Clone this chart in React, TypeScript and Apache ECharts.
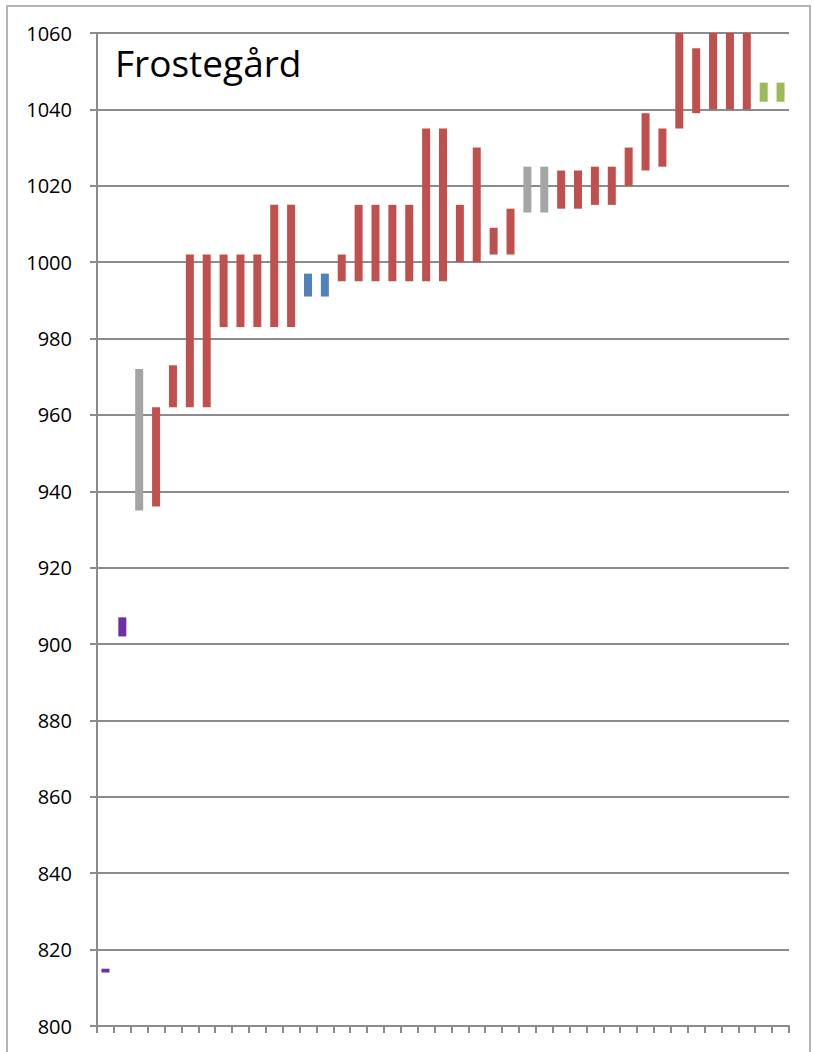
import React, { useEffect, useRef } from "react";
import * as echarts from "echarts";

const TITLE = "Frostegård";

const categories: string[] = Array.from({ length: 41 }, (_, i) => String(i + 1));

const lows: number[] = [
  814, 902, 935, 936, 962, 962, 962, 983, 983, 983, 983, 983, 991, 991, 995,
  995, 995, 995, 995, 995, 995, 1000, 1000, 1002, 1002, 1013, 1013, 1014, 1014,
  1015, 1015, 1020, 1024, 1025, 1035, 1039, 1040, 1040, 1040, 1042, 1042,
];

const highs: number[] = [
  815, 907, 972, 962, 973, 1002, 1002, 1002, 1002, 1002, 1015, 1015, 997, 997,
  1002, 1015, 1015, 1015, 1015, 1035, 1035, 1015, 1030, 1009, 1014, 1025, 1025,
  1024, 1024, 1025, 1025, 1030, 1039, 1035, 1060, 1056, 1060, 1060, 1060, 1047,
  1047,
];

const groups: string[] = [
  "purple", "purple", "grey", "red", "red", "red", "red", "red", "red", "red",
  "red", "red", "blue", "blue", "red", "red", "red", "red", "red", "red", "red",
  "red", "red", "red", "red", "grey", "grey", "red", "red", "red", "red", "red",
  "red", "red", "red", "red", "red", "red", "red", "green", "green",
];

const yTicks = { min: 800, max: 1060, interval: 20 };

const palette: Record<string, string> = {
  red: "#C0504D",
  grey: "#A5A5A5",
  blue: "#4F81BD",
  purple: "#7030A0",
  green: "#9BBB59",
};

export default function App() {
  const ref = useRef<HTMLDivElement>(null);
  useEffect(() => {
    if (!ref.current) return;
    const chart = echarts.init(ref.current, undefined, { renderer: "svg" });
    const gridColor = "#8c8c8c";
    chart.setOption({
      animation: false,
      backgroundColor: "#ffffff",
      grid: { left: 97, right: 25, top: 33, bottom: 26, containLabel: false },
      graphic: [
        {
          type: "rect",
          shape: { x: 7, y: 6, width: 803, height: 1060 },
          style: { fill: "none", stroke: "#b4b4b4", lineWidth: 2 },
          silent: true,
        },
        {
          type: "text",
          left: 115,
          top: 44,
          style: {
            text: TITLE,
            fontFamily: "Open Sans",
            fontSize: 37,
            fill: "#000000",
          },
          z: 10,
        },
      ],
      xAxis: {
        type: "category",
        data: categories,
        boundaryGap: true,
        axisLine: { show: true, lineStyle: { color: gridColor, width: 2 } },
        axisTick: {
          show: true,
          interval: 0,
          length: 7,
          lineStyle: { color: gridColor, width: 2 },
        },
        axisLabel: { show: false },
        splitLine: { show: false },
      },
      yAxis: {
        type: "value",
        min: yTicks.min,
        max: yTicks.max,
        interval: yTicks.interval,
        axisLine: { show: true, lineStyle: { color: gridColor, width: 2 } },
        axisTick: {
          show: true,
          length: 7,
          lineStyle: { color: gridColor, width: 2 },
        },
        axisLabel: {
          margin: 25,
          fontFamily: "Open Sans",
          fontSize: 20,
          color: "#000000",
          formatter: (v: number) => String(v),
        },
        splitLine: { show: true, lineStyle: { color: gridColor, width: 2 } },
      },
      series: [
        {
          type: "bar",
          stack: "r",
          barWidth: 8,
          silent: true,
          itemStyle: { color: "transparent" },
          data: lows,
        },
        {
          type: "bar",
          stack: "r",
          barWidth: 8,
          data: highs.map((h, i) => ({
            value: h - lows[i],
            itemStyle: { color: palette[groups[i]] },
          })),
        },
      ],
    });
    return () => chart.dispose();
  }, []);
  return (
    <div
      ref={ref}
      style={{ position: "fixed", left: 0, top: 0, width: 814, height: 1052 }}
    />
  );
}
